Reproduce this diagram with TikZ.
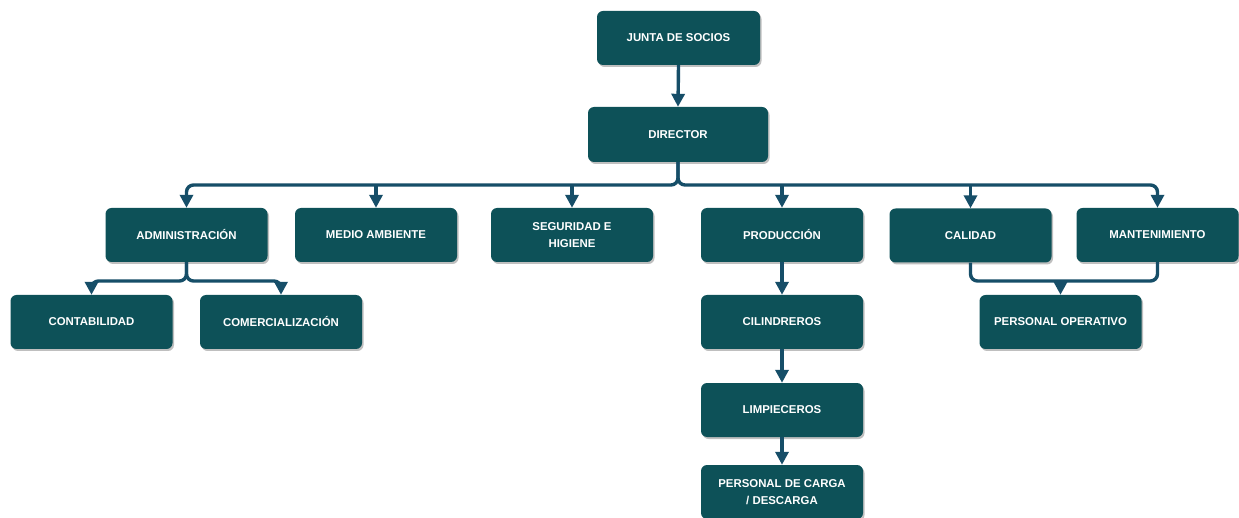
\documentclass[tikz,border=0pt]{standalone}
\usepackage{fontspec}
\setmainfont{Liberation Sans}
\usetikzlibrary{arrows.meta,shadows}
\definecolor{boxfill}{RGB}{13,81,88}
\definecolor{linkcol}{RGB}{22,78,104}
\tikzset{
  unit/.style={draw=none, fill=boxfill, rounded corners=6pt,
    minimum width=162pt, minimum height=54pt, inner sep=2pt,
    text=white, align=center,
    font=\bfseries\fontsize{11.4}{16.5}\selectfont,
    drop shadow={shadow xshift=1.5pt, shadow yshift=-2pt, opacity=0.25, fill=black}},
  link/.style={draw=linkcol, line width=3.4pt, rounded corners=7pt},
  conn/.style={link, -{Triangle[width=13pt,length=13pt]}}
}
\begin{document}
\begin{tikzpicture}[x=1pt,y=-1pt]
  \useasboundingbox (0,0) rectangle (1239,518);
  \fill[white] (0,0) rectangle (1239,518);

  % top of the chart
  \node[unit, minimum width=163pt] (js) at (678.5,38) {JUNTA DE SOCIOS};
  \node[unit, minimum width=180pt, minimum height=55pt] (dir) at (678,134.5) {DIRECTOR};

  % departments
  \node[unit] (adm) at (186.5,235) {ADMINISTRACIÓN};
  \node[unit] (med) at (376,235) {MEDIO AMBIENTE};
  \node[unit] (seg) at (572,235) {SEGURIDAD E\\HIGIENE};
  \node[unit] (pro) at (782,235) {PRODUCCIÓN};
  \node[unit] (cal) at (970.5,235.5) {CALIDAD};
  \node[unit] (man) at (1157.5,235) {MANTENIMIENTO};

  % second level
  \node[unit] (con) at (91.5,322) {CONTABILIDAD};
  \node[unit] (com) at (281,322) {COMERCIALIZACIÓN};
  \node[unit] (cil) at (782,322) {CILINDREROS};
  \node[unit] (ope) at (1060.5,322) {PERSONAL OPERATIVO};

  % production chain
  \node[unit] (lim) at (782,410) {LIMPIECEROS};
  \node[unit] (car) at (782,492) {PERSONAL DE CARGA\\/ DESCARGA};

  % junction points of the connector buses
  \coordinate (bus) at (678,185);
  \coordinate (abus) at (186.5,281);
  \coordinate (qbus) at (1060.5,281);

  % connectors
  \draw[conn] (js.south) -- (dir.north);
  \draw[conn] (dir.south) -- (bus) -| (adm.north);
  \draw[conn] (dir.south) -- (bus) -| (man.north);
  \draw[conn] (med.north |- bus) -- (med.north);
  \draw[conn] (seg.north |- bus) -- (seg.north);
  \draw[conn] (pro.north |- bus) -- (pro.north);
  \draw[conn] (cal.north |- bus) -- (cal.north);

  \draw[conn] (adm.south) -- (abus) -| (con.north);
  \draw[conn] (adm.south) -- (abus) -| (com.north);

  \draw[link] (cal.south) |- (qbus) -| (man.south);
  \draw[conn, rounded corners=0pt] (qbus) -- (ope.north);

  \draw[conn] (pro.south) -- (cil.north);
  \draw[conn] (cil.south) -- (lim.north);
  \draw[conn] (lim.south) -- (car.north);
\end{tikzpicture}
\end{document}
